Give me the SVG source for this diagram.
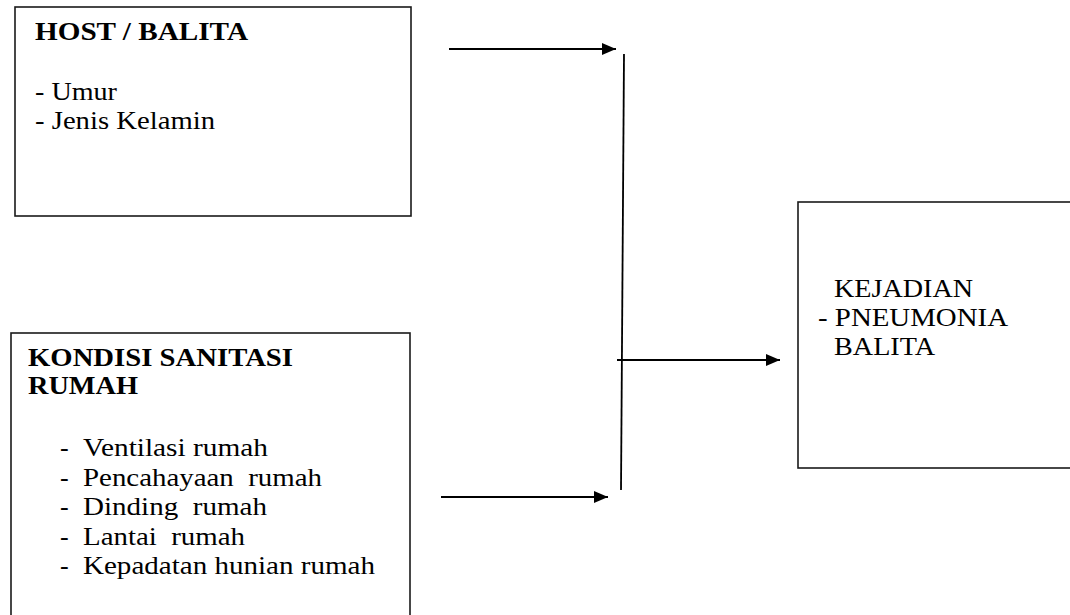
<svg xmlns="http://www.w3.org/2000/svg" width="1070" height="615" viewBox="0 0 1070 615">
<style>
.box{fill:#fff;stroke:#1a1a1a;stroke-width:1.6}
text{font-family:"Liberation Serif","Times New Roman",Tinos,"DejaVu Serif",serif;font-size:26px;fill:#000}
.b{font-weight:bold}
.ln{stroke:#000;stroke-width:1.8;fill:none}
</style>
<defs>
<marker id="ah" markerUnits="userSpaceOnUse" markerWidth="16" markerHeight="14" refX="14" refY="6" orient="auto">
<path d="M0,0 L14,6 L0,12 Z" fill="#000"/>
</marker>
</defs>
<rect width="1070" height="615" fill="#fff"/>
<g id="host">
<rect class="box" x="15" y="7" width="396" height="209"/>
<text class="b" x="35" y="40" textLength="213" lengthAdjust="spacingAndGlyphs">HOST / BALITA</text>
<text x="35" y="100" textLength="82" lengthAdjust="spacingAndGlyphs">- Umur</text>
<text x="35" y="129" textLength="180" lengthAdjust="spacingAndGlyphs">- Jenis Kelamin</text>
</g>
<g id="sanitasi">
<rect class="box" x="11" y="333" width="399" height="300"/>
<text class="b" x="28" y="366" textLength="265" lengthAdjust="spacingAndGlyphs">KONDISI SANITASI</text>
<text class="b" x="28" y="394" textLength="110" lengthAdjust="spacingAndGlyphs">RUMAH</text>
<text x="60" y="456">-</text>
<text x="83" y="456" textLength="185" lengthAdjust="spacingAndGlyphs">Ventilasi rumah</text>
<text x="60" y="486">-</text>
<text x="83" y="486" textLength="239" lengthAdjust="spacingAndGlyphs" xml:space="preserve">Pencahayaan  rumah</text>
<text x="60" y="515">-</text>
<text x="83" y="515" textLength="184" lengthAdjust="spacingAndGlyphs" xml:space="preserve">Dinding  rumah</text>
<text x="60" y="545">-</text>
<text x="83" y="545" textLength="162" lengthAdjust="spacingAndGlyphs" xml:space="preserve">Lantai  rumah</text>
<text x="60" y="574">-</text>
<text x="83" y="574" textLength="292" lengthAdjust="spacingAndGlyphs">Kepadatan hunian rumah</text>
</g>
<g id="pneumonia">
<rect class="box" x="798" y="202" width="290" height="266"/>
<text x="834" y="297" textLength="139" lengthAdjust="spacingAndGlyphs">KEJADIAN</text>
<text x="818" y="326" textLength="190" lengthAdjust="spacingAndGlyphs">- PNEUMONIA</text>
<text x="834" y="355" textLength="101" lengthAdjust="spacingAndGlyphs">BALITA</text>
</g>
<g id="connectors">
<line class="ln" x1="449" y1="49" x2="616" y2="49" marker-end="url(#ah)"/>
<line class="ln" x1="441" y1="497" x2="608" y2="497" marker-end="url(#ah)"/>
<line class="ln" x1="624" y1="54" x2="621" y2="490"/>
<line class="ln" x1="617" y1="360" x2="780" y2="360" marker-end="url(#ah)"/>
</g>
</svg>
